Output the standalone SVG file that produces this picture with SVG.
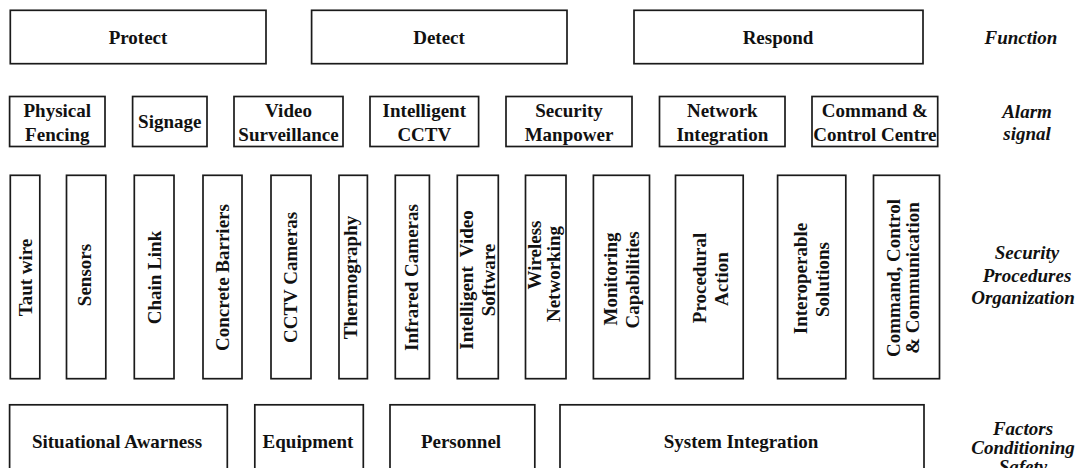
<svg xmlns="http://www.w3.org/2000/svg" width="1081" height="468" viewBox="0 0 1081 468">
<style>
rect{fill:#fff;stroke:#1a1a1a;stroke-width:1.7}
text{font-family:"Liberation Serif","Times New Roman",serif;font-weight:bold;font-size:19px;fill:#111;text-anchor:middle}
.lab{font-style:italic}
.pre{white-space:pre}
</style>
<rect x="0" y="0" width="1081" height="468" style="fill:#fff;stroke:none"/>
<g id="connectors"></g>

<g id="function-row">
<g id="protect"><rect x="10.3" y="10.3" width="255.7" height="53.4"/><text x="138" y="44">Protect</text></g>
<g id="detect"><rect x="311.6" y="10.3" width="255.4" height="53.4"/><text x="439" y="44">Detect</text></g>
<g id="respond"><rect x="634" y="10.3" width="289" height="53.4"/><text x="778" y="44">Respond</text></g>
<g id="label-function"><text class="lab" x="1021" y="44">Function</text></g>
</g>

<g id="alarm-row">
<g id="physical-fencing"><rect x="9.6" y="96.5" width="95.4" height="50"/><text x="57.3" y="117">Physical</text><text x="57.3" y="141">Fencing</text></g>
<g id="signage"><rect x="132.6" y="96.5" width="74.4" height="50"/><text x="169.8" y="128">Signage</text></g>
<g id="video-surveillance"><rect x="234" y="96.5" width="109" height="50"/><text x="288.5" y="117">Video</text><text x="288.5" y="141">Surveillance</text></g>
<g id="intelligent-cctv"><rect x="370" y="96.5" width="108.6" height="50"/><text x="424.3" y="117">Intelligent</text><text x="424.3" y="141">CCTV</text></g>
<g id="security-manpower"><rect x="506" y="96.5" width="126" height="50"/><text x="569" y="117">Security</text><text x="569" y="141">Manpower</text></g>
<g id="network-integration"><rect x="659.5" y="96.5" width="125.5" height="50"/><text x="722.3" y="117">Network</text><text x="722.3" y="141">Integration</text></g>
<g id="command-control-centre"><rect x="812" y="96.5" width="125.7" height="50"/><text x="874.9" y="117">Command &amp;</text><text x="874.9" y="141">Control Centre</text></g>
<g id="label-alarm"><text class="lab" x="1027" y="118">Alarm</text><text class="lab" x="1027" y="140">signal</text></g>
</g>

<g id="procedures-row">
<g id="taut-wire"><rect x="10.3" y="175.3" width="29.5" height="203.4"/><text transform="translate(32,277.5) rotate(-90)">Taut wire</text></g>
<g id="sensors"><rect x="66.5" y="175.3" width="39.3" height="203.4"/><text transform="translate(91,275) rotate(-90)">Sensors</text></g>
<g id="chain-link"><rect x="134.3" y="175.3" width="39.7" height="203.4"/><text transform="translate(161,277.5) rotate(-90)">Chain Link</text></g>
<g id="concrete-barriers"><rect x="203" y="175.3" width="39" height="203.4"/><text transform="translate(228.5,277.5) rotate(-90)">Concrete Barriers</text></g>
<g id="cctv-cameras"><rect x="271" y="175.3" width="40" height="203.4"/><text transform="translate(297,277.5) rotate(-90)">CCTV Cameras</text></g>
<g id="thermography"><rect x="339" y="175.3" width="28.4" height="203.4"/><text transform="translate(357,277.5) rotate(-90)">Thermography</text></g>
<g id="infrared-cameras"><rect x="395.3" y="175.3" width="34.1" height="203.4"/><text transform="translate(417.5,277.5) rotate(-90)">Infrared Cameras</text></g>
<g id="intelligent-video-software"><rect x="457.3" y="175.3" width="41" height="203.4"/><text class="pre" transform="translate(473,280) rotate(-90)">Intelligent  Video</text><text transform="translate(495,280) rotate(-90)">Software</text></g>
<g id="wireless-networking"><rect x="525.5" y="175.3" width="40.5" height="203.4"/><text transform="translate(541,255) rotate(-90)">Wireless</text><text transform="translate(560,274) rotate(-90)">Networking</text></g>
<g id="monitoring-capabilities"><rect x="593.4" y="175.3" width="56.1" height="203.4"/><text transform="translate(617,279) rotate(-90)">Monitoring</text><text transform="translate(639,280) rotate(-90)">Capabilities</text></g>
<g id="procedural-action"><rect x="675.5" y="175.3" width="67.7" height="203.4"/><text transform="translate(706,278) rotate(-90)">Procedural</text><text transform="translate(728,279) rotate(-90)">Action</text></g>
<g id="interoperable-solutions"><rect x="777.6" y="175.3" width="68.2" height="203.4"/><text transform="translate(807,278.5) rotate(-90)">Interoperable</text><text transform="translate(829,279.5) rotate(-90)">Solutions</text></g>
<g id="command-control-communication"><rect x="873.5" y="175.3" width="66" height="203.4"/><text transform="translate(900,278) rotate(-90)">Command, Control</text><text transform="translate(919,278) rotate(-90)">&amp; Communication</text></g>
<g id="label-security"><text class="lab" x="1027" y="259">Security</text><text class="lab" x="1027" y="282">Procedures</text><text class="lab" x="1023" y="304">Organization</text></g>
</g>

<g id="factors-row">
<g id="situational-awarness"><rect x="9.6" y="404.8" width="217.7" height="70"/><text x="117" y="448">Situational Awarness</text></g>
<g id="equipment"><rect x="254.8" y="404.8" width="108.5" height="70"/><text x="308" y="448">Equipment</text></g>
<g id="personnel"><rect x="390" y="404.8" width="144.8" height="70"/><text x="461" y="448">Personnel</text></g>
<g id="system-integration"><rect x="560" y="404.8" width="364" height="70"/><text x="741" y="448">System Integration</text></g>
<g id="label-factors"><text class="lab" x="1023" y="435">Factors</text><text class="lab" x="1023" y="454">Conditioning</text><text class="lab" x="1023" y="473">Safety</text></g>
</g>
</svg>
